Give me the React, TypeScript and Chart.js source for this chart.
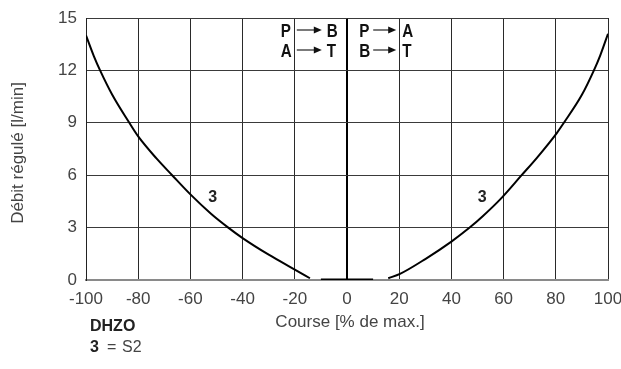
import { useEffect, useRef } from "react";
import { Chart, registerables } from "chart.js";

Chart.register(...registerables);

// Stroke (% of max) and regulated flow (l/min) for curve 3, both directions
const leftStroke = [-100, -97, -94.6, -90, -83.4, -80, -73, -67, -60, -52, -45.5, -40, -30, -20, -14.2];
const leftFlow = [14.0, 12.82, 12.0, 10.62, 9.0, 8.22, 6.96, 6.0, 4.9, 3.78, 3.0, 2.4, 1.45, 0.6, 0.1];
const rightStroke = [15.8, 20.3, 30, 40, 47, 52, 58.6, 66.9, 73, 80.3, 83.1, 90, 94.6, 97, 100];
const rightFlow = [0.1, 0.35, 1.2, 2.2, 3.0, 3.65, 4.6, 6.0, 7.04, 8.4, 9.0, 10.6, 12.0, 12.85, 14.1];
// Dead band around the neutral position
const deadBandStroke = [-10, 10];
const deadBandFlow = [0, 0];

const xTickValues = [-100, -80, -60, -40, -20, 0, 20, 40, 60, 80, 100];
const yTickValues = [0, 3, 6, 9, 12, 15];

const curveName = "3";
const curveLabelStroke = [-51.5, 51.8];
const curveLabelFlow = [4.7, 4.7];

const xTitle = "Course [% de max.]";
const yTitle = "Débit régulé [l/min]";
const modelName = "DHZO";
const legendKey = "3";
const legendValue = "S2";

const FONT = "'Liberation Sans', Arial, Helvetica, sans-serif";
const TEXT = "#444";

const pts = (xs: number[], ys: number[]) => xs.map((x, i) => ({ x, y: ys[i] }));

function drawArrowRow(ctx: CanvasRenderingContext2D, a: string, b: string, xA: number, x0: number, x1: number, xB: number, base: number) {
  ctx.save();
  ctx.fillStyle = "#111";
  ctx.font = `bold 19px ${FONT}`;
  ctx.textBaseline = "alphabetic";
  ctx.textAlign = "left";
  ctx.save();
  ctx.translate(xA, base);
  ctx.scale(0.8, 1);
  ctx.fillText(a, 0, 0);
  ctx.restore();
  ctx.save();
  ctx.translate(xB, base);
  ctx.scale(0.8, 1);
  ctx.fillText(b, 0, 0);
  ctx.restore();
  const ym = base - 7;
  ctx.strokeStyle = "#222";
  ctx.lineWidth = 1.2;
  ctx.beginPath();
  ctx.moveTo(x0, ym);
  ctx.lineTo(x1 - 7, ym);
  ctx.stroke();
  ctx.beginPath();
  ctx.moveTo(x1, ym);
  ctx.lineTo(x1 - 8, ym - 3.6);
  ctx.lineTo(x1 - 8, ym + 3.6);
  ctx.closePath();
  ctx.fill();
  ctx.restore();
}

const annotations = {
  id: "annotations",
  afterDraw(chart: Chart) {
    const { ctx, chartArea } = chart;
    const xs = chart.scales.x;
    const ys = chart.scales.y;
    ctx.save();

    // axis titles
    ctx.fillStyle = TEXT;
    ctx.font = `17px ${FONT}`;
    ctx.textAlign = "center";
    ctx.textBaseline = "middle";
    ctx.fillText(xTitle, (chartArea.left + chartArea.right) / 2 + 3, 322);
    ctx.save();
    ctx.translate(18, (chartArea.top + chartArea.bottom) / 2 + 4);
    ctx.rotate(-Math.PI / 2);
    ctx.fillText(yTitle, 0, 0);
    ctx.restore();

    // valve path labels
    const gL = xs.getPixelForValue(-20);
    const gR = xs.getPixelForValue(20);
    const r1 = chartArea.top + 19;
    const r2 = chartArea.top + 39;
    drawArrowRow(ctx, "P", "B", gL - 14, gL + 2, gL + 27, gL + 32, r1);
    drawArrowRow(ctx, "A", "T", gL - 14, gL + 2, gL + 27, gL + 32, r2);
    drawArrowRow(ctx, "P", "A", gR - 40, gR - 26, gR - 3, gR + 3, r1);
    drawArrowRow(ctx, "B", "T", gR - 40, gR - 26, gR - 3, gR + 3, r2);

    // curve labels
    ctx.fillStyle = "#222";
    ctx.font = `bold 16px ${FONT}`;
    ctx.textAlign = "center";
    ctx.textBaseline = "middle";
    curveLabelStroke.forEach((s, i) => {
      ctx.fillText(curveName, xs.getPixelForValue(s), ys.getPixelForValue(curveLabelFlow[i]));
    });

    // model legend
    ctx.textAlign = "left";
    ctx.fillStyle = "#222";
    ctx.font = `bold 16px ${FONT}`;
    ctx.fillText(modelName, 90, 327);
    ctx.fillText(legendKey, 90, 348);
    ctx.font = `16px ${FONT}`;
    ctx.fillStyle = TEXT;
    ctx.fillText("=", 107, 348);
    ctx.fillText(legendValue, 122, 348);
    ctx.restore();
  },
};

export default function App() {
  const ref = useRef<HTMLCanvasElement>(null);

  useEffect(() => {
    if (!ref.current) return;
    const line = { borderColor: "#000", borderWidth: 2, pointRadius: 0, fill: false, cubicInterpolationMode: "monotone" as const };
    const chart = new Chart(ref.current, {
      type: "line",
      data: {
        datasets: [
          { ...line, data: pts(leftStroke, leftFlow) },
          { ...line, data: pts(rightStroke, rightFlow) },
          { ...line, borderWidth: 3, data: pts(deadBandStroke, deadBandFlow) },
        ],
      },
      plugins: [annotations],
      options: {
        animation: false,
        responsive: false,
        devicePixelRatio: 1,
        layout: { padding: { top: 18, right: 13, bottom: 0, left: 0 } },
        plugins: { legend: { display: false }, tooltip: { enabled: false }, title: { display: false } },
        scales: {
          x: {
            type: "linear",
            min: -100,
            max: 100,
            afterBuildTicks: (s: any) => {
              s.ticks = xTickValues.map((value) => ({ value }));
            },
            ticks: { color: TEXT, font: { family: FONT, size: 17 }, padding: 9, maxRotation: 0, autoSkip: false },
            grid: {
              drawTicks: false,
              color: (c: any) => (c.tick && c.tick.value === 0 ? "#000" : "#2a2a2a"),
              lineWidth: (c: any) => (c.tick && c.tick.value === 0 ? 2 : 1),
            },
            border: { color: "#8a8a8a", width: 2 },
            afterFit: (s: any) => {
              s.height = 89;
              s.paddingLeft = 0;
              s.paddingRight = 0;
            },
          },
          y: {
            min: 0,
            max: 15,
            afterBuildTicks: (s: any) => {
              s.ticks = yTickValues.map((value) => ({ value }));
            },
            ticks: { color: TEXT, font: { family: FONT, size: 17 }, padding: 9 },
            grid: {
              drawTicks: false,
              color: (c: any) => (c.tick && c.tick.value === 0 ? "#8a8a8a" : "#3a3a3a"),
              lineWidth: 1,
            },
            border: { color: "#222", width: 1 },
            afterFit: (s: any) => {
              s.width = 86;
              s.paddingTop = 0;
              s.paddingBottom = 0;
            },
          },
        },
      },
    });
    return () => chart.destroy();
  }, []);

  return (
    <div style={{ position: "absolute", left: 0, top: 0, width: 621, height: 369, background: "#fff" }}>
      <canvas ref={ref} width={621} height={369} style={{ width: 621, height: 369, display: "block" }} />
    </div>
  );
}
